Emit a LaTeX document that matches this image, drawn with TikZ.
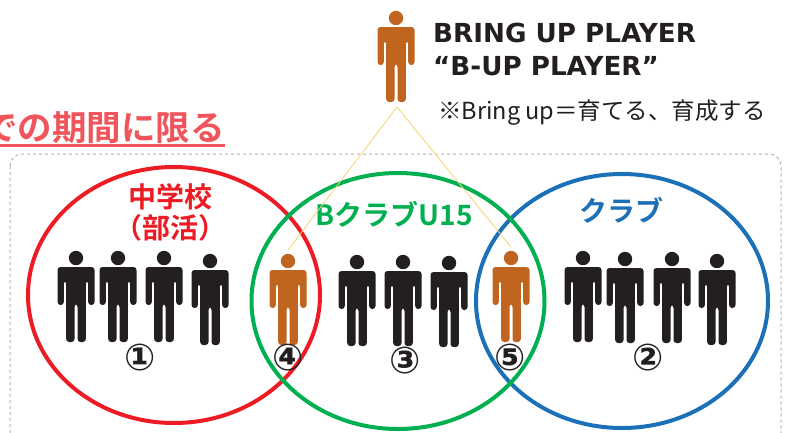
\documentclass[tikz,border=0pt]{standalone}
\usepackage{fontspec}
\newfontfamily\jpfont[BoldFont={Noto Sans CJK JP Bold}]{Noto Sans CJK JP}
\usetikzlibrary{shapes.geometric}
\definecolor{vennred}{HTML}{ED1C24}
\definecolor{venngreen}{HTML}{00B050}
\definecolor{vennblue}{HTML}{1B70B8}
\definecolor{titlered}{HTML}{F0555C}
\definecolor{inkblack}{HTML}{231F20}
\definecolor{bupbrown}{HTML}{C0651F}
\definecolor{linkyellow}{HTML}{F7D272}
\tikzset{
    venn/.style={ellipse,line width=4pt,inner sep=0pt},
    venntext/.style={font=\jpfont\bfseries\fontsize{28}{31}\selectfont,align=center,inner sep=0pt},
    num/.style={font=\fontspec{DejaVu Sans Bold}\fontsize{37}{37}\selectfont,text=inkblack,inner sep=0pt},
    playertext/.style={anchor=base west,inner sep=0pt,text=inkblack,font=\fontspec{DejaVu Sans Bold}\fontsize{26.2}{30}\selectfont},
    link/.style={draw=linkyellow,line width=0.8pt},
    player/.pic={
        \coordinate (-head) at (0,-11);
        \coordinate (-foot) at (1,89);
        \fill[pic actions] (0,0) circle (7.2);
        \fill[pic actions,rounded corners=3pt] (-18.5,9) -- (18.5,9) -- (18.5,47) -- (12.2,47) -- (12.2,23)
            -- (9.8,23) -- (9.8,84) -- (1.5,84) -- (1.5,46) -- (-1.5,46) -- (-1.5,84) -- (-9.8,84)
            -- (-9.8,23) -- (-12.2,23) -- (-12.2,47) -- (-18.5,47) -- cycle;
    }
}
\begin{document}
\begin{tikzpicture}[x=1pt,y=-1pt]
    \path[use as bounding box,clip] (0,0) rectangle (787,432);
    \draw[gray!60,dashed,line width=1pt,rounded corners=12pt] (10,154) rectangle (781,460);
    % headline cut by the page edge
    \node[anchor=base east,inner sep=0pt,text=titlered,font=\jpfont\bfseries\fontsize{34.5}{34.5}\selectfont] (title) at (225,140) {での期間に限る};
    \draw[titlered,line width=3pt] (title.base west |- 0,145.5) -- (225,145.5);
    % circles
    \node[venn,draw=vennred,minimum width=292pt,minimum height=256pt] (school) at (174,295) {};
    \node[venn,draw=vennblue,minimum width=292pt,minimum height=254pt] (club) at (622,301) {};
    \node[venn,draw=venngreen,minimum width=293pt,minimum height=256pt] (bclub) at (398,301) {};
    \node[venntext,text=vennred] (schoollabel) at (170,212) {中学校\\（部活）};
    \node[venntext,text=venngreen] (bclublabel) at (394,214) {BクラブU15};
    \node[venntext,text=vennblue] (clublabel) at (621,210) {クラブ};
    % players
    \pic[fill=bupbrown] (top) at (396,18) {player};
    \foreach \name/\px/\py in {a1/76/258,a2/118/258,a3/164/258,a4/210/261,
        c1/357/262,c2/403/262,c3/449/263,
        b1/583/258,b2/625/259,b3/672/259,b4/717/261}
        \pic[fill=inkblack] (\name) at (\px,\py) {player};
    \pic[fill=bupbrown] (mid4) at (288,261) {player};
    \pic[fill=bupbrown] (mid5) at (511,258) {player};
    \draw[link] (top-foot) -- (mid4-head);
    \draw[link] (top-foot) -- (mid5-head);
    % numbers
    \node[num] (n1) at (140,358) {①};
    \node[num] (n2) at (648,358) {②};
    \node[num] (n3) at (405,361) {③};
    \node[num] (n4) at (288,358) {④};
    \node[num] (n5) at (510,358) {⑤};
    % text beside the top player
    \node[playertext] (name1) at (433,42) {BRING UP PLAYER};
    \node[playertext] (name2) at (433,75) {“B-UP PLAYER”};
    \node[anchor=base west,inner sep=0pt,text=inkblack,font=\jpfont\fontsize{23.5}{28}\selectfont] (note) at (438,119) {※Bring up＝育てる、育成する};
\end{tikzpicture}
\end{document}
